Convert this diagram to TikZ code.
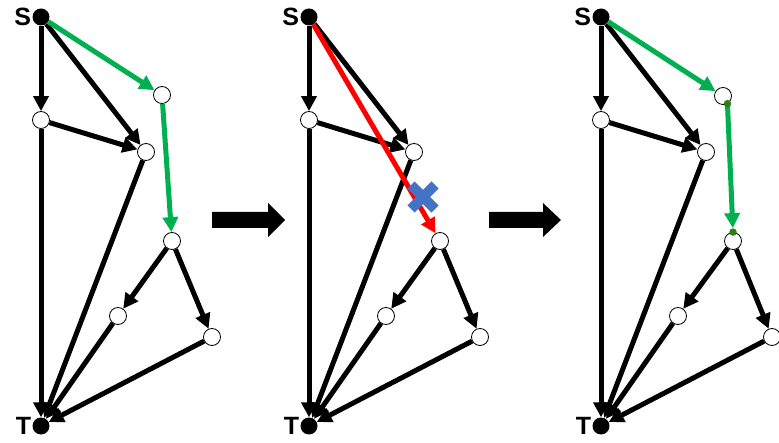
\documentclass[tikz,border=0pt]{standalone}
\usepackage{fontspec}
\setmainfont{Liberation Sans}
\usetikzlibrary{arrows.meta}
\definecolor{pgreen}{HTML}{00B050}
\definecolor{dgreen}{HTML}{2E7D1A}
\definecolor{pred}{HTML}{FF0000}
\definecolor{pblue}{HTML}{4472C4}
\tikzset{
  vtx/.style={circle, draw=black, line width=0.8pt, fill=white, minimum size=17pt, inner sep=0pt},
  term/.style={circle, fill=black, minimum size=17pt, inner sep=0pt},
  lbl/.style={font=\fontsize{25}{25}\selectfont\bfseries, inner sep=0pt, anchor=east},
  arr/.style={line width=5pt, -{Triangle[length=15pt,width=15pt]}},
  garr/.style={arr, draw=pgreen},
  rarr/.style={arr, draw=pred},
  gdot/.style={circle, fill=dgreen, minimum size=7.5pt, inner sep=0pt},
  bigarrow/.style={fill=black},
  cross/.style={draw=pblue, line width=10pt}
}
\begin{document}
\begin{tikzpicture}[x=1pt,y=-1pt]
\useasboundingbox (0,0) rectangle (779,443);
% ---------- panel 1 ----------
\node[term] (S1) at (41,17) {};
\node[term] (T1) at (41,426) {};
\node[vtx] (A1) at (41,120) {};
\node[vtx] (B1) at (146,152) {};
\node[vtx] (C1) at (162,95) {};
\node[vtx] (D1) at (172,241) {};
\node[vtx] (E1) at (118,316) {};
\node[vtx] (F1) at (212,337) {};
\node[lbl] at ([xshift=-1pt]S1.west) {S};
\node[lbl] at ([xshift=-1pt]T1.west) {T};
\draw[arr] (S1) -- (A1);
\draw[arr] (S1) -- (B1);
\draw[garr] (S1) -- (C1);
\draw[arr] (A1) -- (B1);
\draw[arr] (A1) -- (T1);
\draw[arr] (B1) -- (T1);
\draw[garr] (C1) -- (D1);
\draw[arr] (D1) -- (E1);
\draw[arr] (D1) -- (F1);
\draw[arr] (E1) -- (T1);
\draw[arr] (F1) -- (T1);
% ---------- block arrow 1 ----------
\fill[bigarrow] (212,212) -- (268,212) -- (268,203) -- (285,220) -- (268,237) -- (268,228) -- (212,228) -- cycle;
% ---------- panel 2 ----------
\node[term] (S2) at (309,17) {};
\node[term] (T2) at (309,426) {};
\node[vtx] (A2) at (309,120) {};
\node[vtx] (B2) at (414,152) {};
\node[vtx] (D2) at (440,241) {};
\node[vtx] (E2) at (386,316) {};
\node[vtx] (F2) at (480,337) {};
\node[lbl] at ([xshift=-1pt]S2.west) {S};
\node[lbl] at ([xshift=-1pt]T2.west) {T};
\draw[arr] (S2) -- (A2);
\draw[arr] (S2) -- (B2);
\draw[arr] (A2) -- (B2);
\draw[arr] (A2) -- (T2);
\draw[arr] (B2) -- (T2);
\draw[arr] (D2) -- (E2);
\draw[arr] (D2) -- (F2);
\draw[arr] (E2) -- (T2);
\draw[arr] (F2) -- (T2);
\draw[rarr] (S2) -- (D2);
\coordinate (X2) at (423,197);
\draw[cross] ([shift={(-12,-12)}]X2) -- ([shift={(12,12)}]X2);
\draw[cross] ([shift={(-12,12)}]X2) -- ([shift={(12,-12)}]X2);
% ---------- block arrow 2 ----------
\fill[bigarrow] (489,212) -- (543,212) -- (543,203) -- (561,220) -- (543,237) -- (543,228) -- (489,228) -- cycle;
% ---------- panel 3 ----------
\node[term] (S3) at (601,17) {};
\node[term] (T3) at (601,426) {};
\node[vtx] (A3) at (601,120) {};
\node[vtx] (B3) at (706,152) {};
\node[vtx] (C3) at (723,96) {};
\node[vtx] (D3) at (733,241) {};
\node[vtx] (E3) at (678,316) {};
\node[vtx] (F3) at (772,337) {};
\node[lbl] at ([xshift=-1pt]S3.west) {S};
\node[lbl] at ([xshift=-1pt]T3.west) {T};
\draw[arr] (S3) -- (A3);
\draw[arr] (S3) -- (B3);
\draw[garr] (S3) -- (C3);
\draw[arr] (A3) -- (B3);
\draw[arr] (A3) -- (T3);
\draw[arr] (B3) -- (T3);
\draw[arr] (D3) -- (E3);
\draw[arr] (D3) -- (F3);
\draw[arr] (E3) -- (T3);
\draw[arr] (F3) -- (T3);
\coordinate (cd3) at (C3.-60);
\coordinate (dd3) at (D3.north);
\draw[garr, shorten >=4pt] (cd3) -- (dd3);
\node[gdot] (cdot3) at (cd3) {};
\node[gdot] (ddot3) at (dd3) {};
\end{tikzpicture}
\end{document}
